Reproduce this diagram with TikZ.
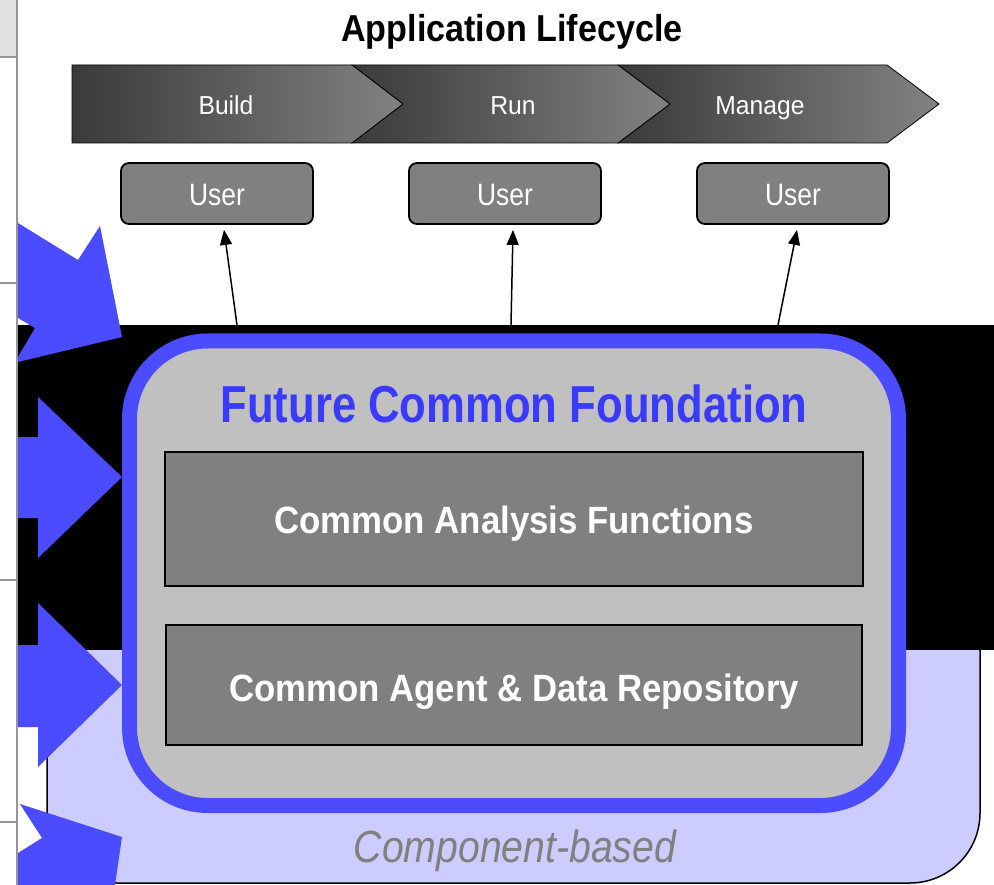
\documentclass[tikz,border=0pt]{standalone}
\usepackage{fontspec}
\usepackage{graphicx}
\setmainfont{Liberation Sans}
\usetikzlibrary{arrows.meta}

\definecolor{arrowblue}{RGB}{75,75,255}
\definecolor{titleblue}{RGB}{58,58,255}
\definecolor{lavender}{RGB}{204,204,255}
\definecolor{panelgray}{RGB}{192,192,192}
\definecolor{boxgray}{RGB}{128,128,128}
\definecolor{gridgray}{RGB}{150,150,150}
\definecolor{cellgray}{RGB}{224,224,224}
\definecolor{chevdark}{RGB}{58,58,58}
\definecolor{chevlight}{RGB}{130,130,130}

% horizontal squeeze of a text, baseline kept
\newcommand\squeeze[2]{\scalebox{#1}[1]{#2}}

\begin{document}
\begin{tikzpicture}[x=1pt,y=-1pt,
  gridline/.style={draw=gridgray,line width=2pt},
  chevron/.style={left color=chevdark,right color=chevlight,draw=black,line width=0.8pt},
  phaselabel/.style={anchor=base,text=white,inner sep=0pt,font=\fontsize{26}{30}\selectfont},
  userbox/.style={draw=black,line width=1.8pt,fill=boxgray,rounded corners=8pt,
    minimum width=192pt,minimum height=61pt,inner sep=0pt},
  userlabel/.style={anchor=base,text=white,inner sep=0pt,font=\fontsize{31}{36}\selectfont},
  uplink/.style={draw=black,line width=1.5pt,-{Triangle[length=15pt,width=12pt]}},
  bigarrow/.style={fill=arrowblue},
  layerbox/.style={draw=black,line width=1.5pt,fill=boxgray,inner sep=0pt},
  layerlabel/.style={anchor=base,text=white,inner sep=0pt,font=\fontsize{38}{44}\selectfont\bfseries},
]
\useasboundingbox (0,0) rectangle (994,885);
\fill[white] (0,0) rectangle (994,885);

% table edge on the left
\fill[cellgray] (0,0) rectangle (16.5,57);
\draw[gridline] (16.5,0) -- (16.5,885);
\foreach \yy in {57,283,580,822} \draw[gridline] (0,\yy) -- (16.5,\yy);

% component-based layer and black band
\filldraw[fill=lavender,draw=black,line width=1.5pt,rounded corners=70pt] (47,560) rectangle (980,883);
\fill[black] (17.5,325) rectangle (994,650);

% lifecycle heading and phases
\node[anchor=base,inner sep=0pt,font=\fontsize{37.5}{44}\selectfont\bfseries] (lifecycle) at (512,42)
  {\squeeze{0.91}{Application Lifecycle}};
\shadedraw[chevron] (618,65) -- (887,65) -- (939,104) -- (887,143) -- (618,143) -- (670,104) -- cycle;
\shadedraw[chevron] (352,65) -- (618,65) -- (670,104) -- (618,143) -- (352,143) -- (403,104) -- cycle;
\shadedraw[chevron] (72,65) -- (352,65) -- (403,104) -- (352,143) -- (72,143) -- cycle;
\node[phaselabel] (build) at (226,115) {\squeeze{0.95}{Build}};
\node[phaselabel] (run) at (513,115) {\squeeze{0.95}{Run}};
\node[phaselabel] (manage) at (760,115) {\squeeze{0.95}{Manage}};

% users
\node[userbox] (u1) at (217,193.5) {};
\node[userbox] (u2) at (505,193.5) {};
\node[userbox] (u3) at (793,193.5) {};
\node[userlabel] (u1t) at (217,206) {\squeeze{0.85}{User}};
\node[userlabel] (u2t) at (505,206) {\squeeze{0.85}{User}};
\node[userlabel] (u3t) at (793,206) {\squeeze{0.85}{User}};

% links from the foundation up to the users
\coordinate (s1) at (237,325);
\coordinate (s2) at (511,325);
\coordinate (s3) at (778,325);
\draw[uplink] (s1) -- ([xshift=7pt,yshift=-5pt]u1.south);
\draw[uplink] (s2) -- ([xshift=8pt,yshift=-5pt]u2.south);
\draw[uplink] (s3) -- ([xshift=4pt,yshift=-5pt]u3.south);

% incoming block arrows on the left
\fill[bigarrow] (18,223) -- (78,260) -- (100,226) -- (122,337) -- (18,362) -- (18,357) -- (35,328) -- (18,318) -- cycle;
\fill[bigarrow] (18,437) -- (38,437) -- (38,397) -- (122,477) -- (38,558) -- (38,518) -- (18,518) -- cycle;
\fill[bigarrow] (18,645) -- (38,645) -- (38,603) -- (122,685) -- (38,767) -- (38,727) -- (18,727) -- cycle;
\fill[bigarrow] (20,804) -- (122,837) -- (115,885) -- (18,885) -- (18,853) -- (42,838) -- cycle;

% foundation
\node[draw=arrowblue,line width=15pt,fill=panelgray,rounded corners=78pt,
  minimum width=769pt,minimum height=464.5pt,inner sep=0pt] (found) at (514,573.25) {};
\node[anchor=base,inner sep=0pt,text=titleblue,font=\fontsize{52}{60}\selectfont\bfseries]
  (foundtitle) at (514,423) {\squeeze{0.84}{Future Common Foundation}};

\node[layerbox,minimum width=698pt,minimum height=134pt] (analysis) at (514,519) {};
\node[layerbox,minimum width=696pt,minimum height=120pt] (repo) at (514,685) {};
\node[layerlabel] (analysist) at (514,533) {\squeeze{0.915}{Common Analysis Functions}};
\node[layerlabel] (repot) at (514,701) {\squeeze{0.915}{Common Agent \& Data Repository}};

\node[anchor=base,inner sep=0pt,text=boxgray,font=\fontsize{45}{52}\selectfont\itshape]
  (compt) at (515,862) {\squeeze{0.87}{Component-based}};
\end{tikzpicture}
\end{document}
